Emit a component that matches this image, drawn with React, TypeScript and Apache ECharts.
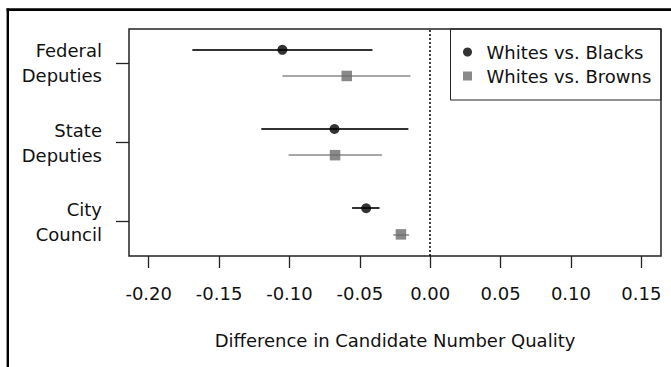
import React, { useEffect, useRef } from "react";
import * as echarts from "echarts";

// ---- data ----
const categories = ["Federal\nDeputies", "State\nDeputies", "City\nCouncil"];
const rowPos = [3, 2, 1];
const seriesNames = ["Whites vs. Blacks", "Whites vs. Browns"];

const blackEst = [-0.105, -0.068, -0.0455];
const blackLo = [-0.169, -0.12, -0.0555];
const blackHi = [-0.041, -0.0155, -0.036];

const grayEst = [-0.0593, -0.0676, -0.0208];
const grayLo = [-0.105, -0.1006, -0.0263];
const grayHi = [-0.014, -0.0343, -0.015];

const xTicks = [-0.2, -0.15, -0.1, -0.05, 0, 0.05, 0.1, 0.15];
const xTitle = "Difference in Candidate Number Quality";

const FONT = "'DejaVu Sans', 'Liberation Sans', Arial, sans-serif";
const FS = 18;
const TEXT = "#111";
const OFF_BLACK = 0.17;
const OFF_GRAY = -0.16;

export default function App() {
  const ref = useRef<HTMLDivElement>(null);

  useEffect(() => {
    document.body.style.margin = "0";
    const chart = echarts.init(ref.current!, null, { renderer: "svg" });

    const blackPts = blackEst.map((v, i) => [v, rowPos[i] + OFF_BLACK]);
    const grayPts = grayEst.map((v, i) => [v, rowPos[i] + OFF_GRAY]);
    const blackBars = blackLo.map((lo, i) => ({
      coords: [
        [lo, rowPos[i] + OFF_BLACK],
        [blackHi[i], rowPos[i] + OFF_BLACK],
      ],
    }));
    const grayBars = grayLo.map((lo, i) => ({
      coords: [
        [lo, rowPos[i] + OFF_GRAY],
        [grayHi[i], rowPos[i] + OFF_GRAY],
      ],
    }));

    const option: any = {
      animation: false,
      backgroundColor: "#fff",
      textStyle: { fontFamily: FONT },
      grid: {
        left: 129,
        right: 10,
        top: 29,
        bottom: 111,
        show: true,
        borderColor: "#222",
        borderWidth: 1.5,
        backgroundColor: "transparent",
        containLabel: false,
        outerBoundsMode: "none",
      },
      xAxis: {
        type: "value",
        min: -0.214,
        max: 0.164,
        axisLine: { show: false, onZero: false },
        splitLine: { show: false },
        axisTick: {
          show: true,
          inside: false,
          length: 12,
          customValues: xTicks,
          lineStyle: { color: "#222", width: 1.3 },
        },
        axisLabel: {
          customValues: xTicks,
          formatter: (v: number) => v.toFixed(2),
          fontSize: FS,
          color: TEXT,
          fontFamily: FONT,
          margin: 28,
        },
        name: xTitle,
        nameLocation: "middle",
        nameGap: 75,
        nameTextStyle: { fontSize: FS, color: TEXT, fontFamily: FONT },
      },
      yAxis: {
        type: "value",
        min: 0.567,
        max: 3.433,
        axisLine: { show: false, onZero: false },
        splitLine: { show: false },
        axisTick: {
          show: true,
          inside: false,
          length: 13,
          customValues: rowPos,
          lineStyle: { color: "#222", width: 1.3 },
        },
        axisLabel: {
          customValues: rowPos,
          formatter: (v: number) => categories[rowPos.indexOf(Math.round(v))] ?? "",
          fontSize: FS,
          lineHeight: 25,
          color: TEXT,
          fontFamily: FONT,
          align: "right",
          margin: 27,
        },
      },
      legend: {
        orient: "vertical",
        left: 463,
        top: 43,
        padding: 0,
        itemGap: 6,
        itemWidth: 28,
        itemHeight: 9,
        symbolKeepAspect: true,
        textStyle: { fontSize: FS, color: TEXT, fontFamily: FONT, padding: 0 },
        data: [
          { name: seriesNames[0], icon: "circle" },
          { name: seriesNames[1], icon: "path://M0 0H10V10H0Z" },
        ],
      },
      series: [
        {
          type: "lines",
          name: "blackCI",
          coordinateSystem: "cartesian2d",
          polyline: false,
          silent: true,
          z: 1,
          lineStyle: { color: "#333", width: 2, opacity: 1 },
          data: blackBars,
          markLine: {
            silent: true,
            symbol: ["none", "none"],
            label: { show: false },
            lineStyle: { color: "#000", type: [2, 2], width: 1.5 },
            data: [{ xAxis: 0 }],
          },
        },
        {
          type: "lines",
          name: "grayCI",
          coordinateSystem: "cartesian2d",
          polyline: false,
          silent: true,
          z: 1,
          lineStyle: { color: "#8a8a8a", width: 1.5, opacity: 1 },
          data: grayBars,
        },
        {
          type: "scatter",
          name: seriesNames[0],
          symbol: "circle",
          symbolSize: 10,
          z: 3,
          itemStyle: { color: "#000" },
          data: blackPts,
        },
        {
          type: "scatter",
          name: seriesNames[1],
          symbol: "rect",
          symbolSize: 10.5,
          z: 3,
          itemStyle: { color: "#6b6b6b" },
          data: grayPts,
        },
      ],
      graphic: [
        {
          type: "rect",
          z: 10,
          shape: { x: 450.5, y: 29, width: 210.5, height: 71 },
          style: { fill: "none", stroke: "#222", lineWidth: 1 },
        },
        {
          type: "line",
          z: 10,
          shape: { x1: 6.5, y1: 9.7, x2: 671, y2: 9.7 },
          style: { stroke: "#000", lineWidth: 2.7 },
        },
        {
          type: "line",
          z: 10,
          shape: { x1: 7.8, y1: 8.5, x2: 7.8, y2: 367 },
          style: { stroke: "#000", lineWidth: 2.4 },
        },
      ],
    };

    chart.setOption(option);
    return () => chart.dispose();
  }, []);

  return <div ref={ref} style={{ width: 671, height: 367 }} />;
}
